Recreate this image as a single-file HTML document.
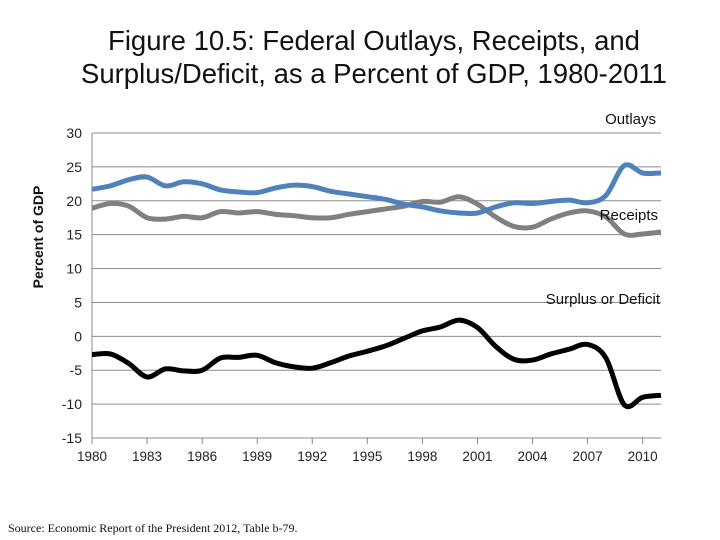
<!DOCTYPE html>
<html><head><meta charset="utf-8"><style>
body{margin:0;background:#fff;}
svg{display:block;font-family:"Liberation Sans",sans-serif;}
</style></head><body>
<svg id="chart" width="720" height="540">
<text x="374" y="50" font-size="27.5" text-anchor="middle" fill="#111">Figure 10.5: Federal Outlays, Receipts, and</text>
<text x="374" y="83" font-size="27.5" text-anchor="middle" fill="#111">Surplus/Deficit, as a Percent of GDP, 1980-2011</text>
<text transform="translate(43,237) rotate(-90)" font-size="14" font-weight="bold" text-anchor="middle" fill="#111">Percent of GDP</text>
<text x="8" y="532" font-size="12" font-family="Liberation Serif,serif" fill="#111">Source: Economic Report of the President 2012, Table b-79.</text>
<g id="grid"></g><g id="lines"></g><g id="labels"></g>
</svg>
<script>
const years=[];for(let y=1980;y<=2011;y++)years.push(y);
const outlays=[21.7,22.2,23.1,23.5,22.2,22.8,22.5,21.6,21.3,21.2,21.9,22.3,22.1,21.4,21.0,20.6,20.2,19.5,19.1,18.5,18.2,18.2,19.1,19.7,19.6,19.9,20.1,19.7,20.8,25.2,24.1,24.1];
const receipts=[18.9,19.6,19.2,17.5,17.3,17.7,17.5,18.4,18.2,18.4,18.0,17.8,17.5,17.5,18.0,18.4,18.8,19.2,19.9,19.8,20.6,19.5,17.6,16.2,16.1,17.3,18.2,18.5,17.6,15.1,15.1,15.4];
const deficit=[-2.7,-2.6,-4.0,-6.0,-4.8,-5.1,-5.0,-3.2,-3.1,-2.8,-3.9,-4.5,-4.7,-3.9,-2.9,-2.2,-1.4,-0.3,0.8,1.4,2.4,1.3,-1.5,-3.4,-3.5,-2.6,-1.9,-1.2,-3.2,-10.1,-9.0,-8.7];
const yTicks=[30,25,20,15,10,5,0,-5,-10,-15];
const xTicks=[1980,1983,1986,1989,1992,1995,1998,2001,2004,2007,2010];
const NS="http://www.w3.org/2000/svg";
const X0=92,X1=661,Y0=133,Y1=438;
const xs=y=>X0+(y-1980)/31*(X1-X0);
const ys=v=>Y0+(30-v)/45*(Y1-Y0);
function mk(t,a,p){const e=document.createElementNS(NS,t);for(const k in a)e.setAttribute(k,a[k]);p.appendChild(e);return e;}
const grid=document.getElementById('grid'),lines=document.getElementById('lines'),labels=document.getElementById('labels');
yTicks.forEach(v=>{
  const l=mk('line',{x1:X0,x2:X1,y1:ys(v),y2:ys(v),stroke:'#8c8c8c','stroke-width':1},grid);
  
  
  const t=mk('text',{x:X0-10,y:ys(v)+5,'font-size':14,'text-anchor':'end',fill:'#222'},labels);
  t.textContent=v;
  
  
});
const ax=mk('line',{x1:X0,x2:X0,y1:Y0,y2:Y1,stroke:'#888'},grid);


xTicks.forEach(y=>{
  const tk=mk('line',{x1:xs(y),x2:xs(y),y1:Y1,y2:Y1+6,stroke:'#888'},grid);
  
  
  const t=mk('text',{x:xs(y),y:Y1+23,'font-size':13.5,'text-anchor':'middle',fill:'#222'},labels);
  t.textContent=y;
  
  
});
function path(vals){
  const p=vals.map((v,i)=>[xs(years[i]),ys(v)]);
  let d='M'+p[0][0]+','+p[0][1];
  for(let i=0;i<p.length-1;i++){
    const a=p[Math.max(i-1,0)],b=p[i],c=p[i+1],e=p[Math.min(i+2,p.length-1)];
    const c1=[b[0]+(c[0]-a[0])/6,b[1]+(c[1]-a[1])/6],c2=[c[0]-(e[0]-b[0])/6,c[1]-(e[1]-b[1])/6];
    d+=' C'+c1+' '+c2+' '+c;
  }
  return d;
}
[[receipts,'#808080','receipts-line'],[outlays,'#4f81bd','outlays-line'],[deficit,'#000','surplus-deficit-line']].forEach(s=>{
  const e=mk('path',{d:path(s[0]),fill:'none',stroke:s[1],'stroke-width':5,'stroke-linejoin':'round'},lines);
  
  
});
[['Outlays',656,124,'outlays-label'],['Receipts',658,220,'receipts-label'],['Surplus or Deficit',660,304,'surplus-deficit-label']].forEach(s=>{
  const t=mk('text',{x:s[1],y:s[2],'font-size':15,'text-anchor':'end',fill:'#111'},labels);
  t.textContent=s[0];
  
  
});
</script>
</body></html>
